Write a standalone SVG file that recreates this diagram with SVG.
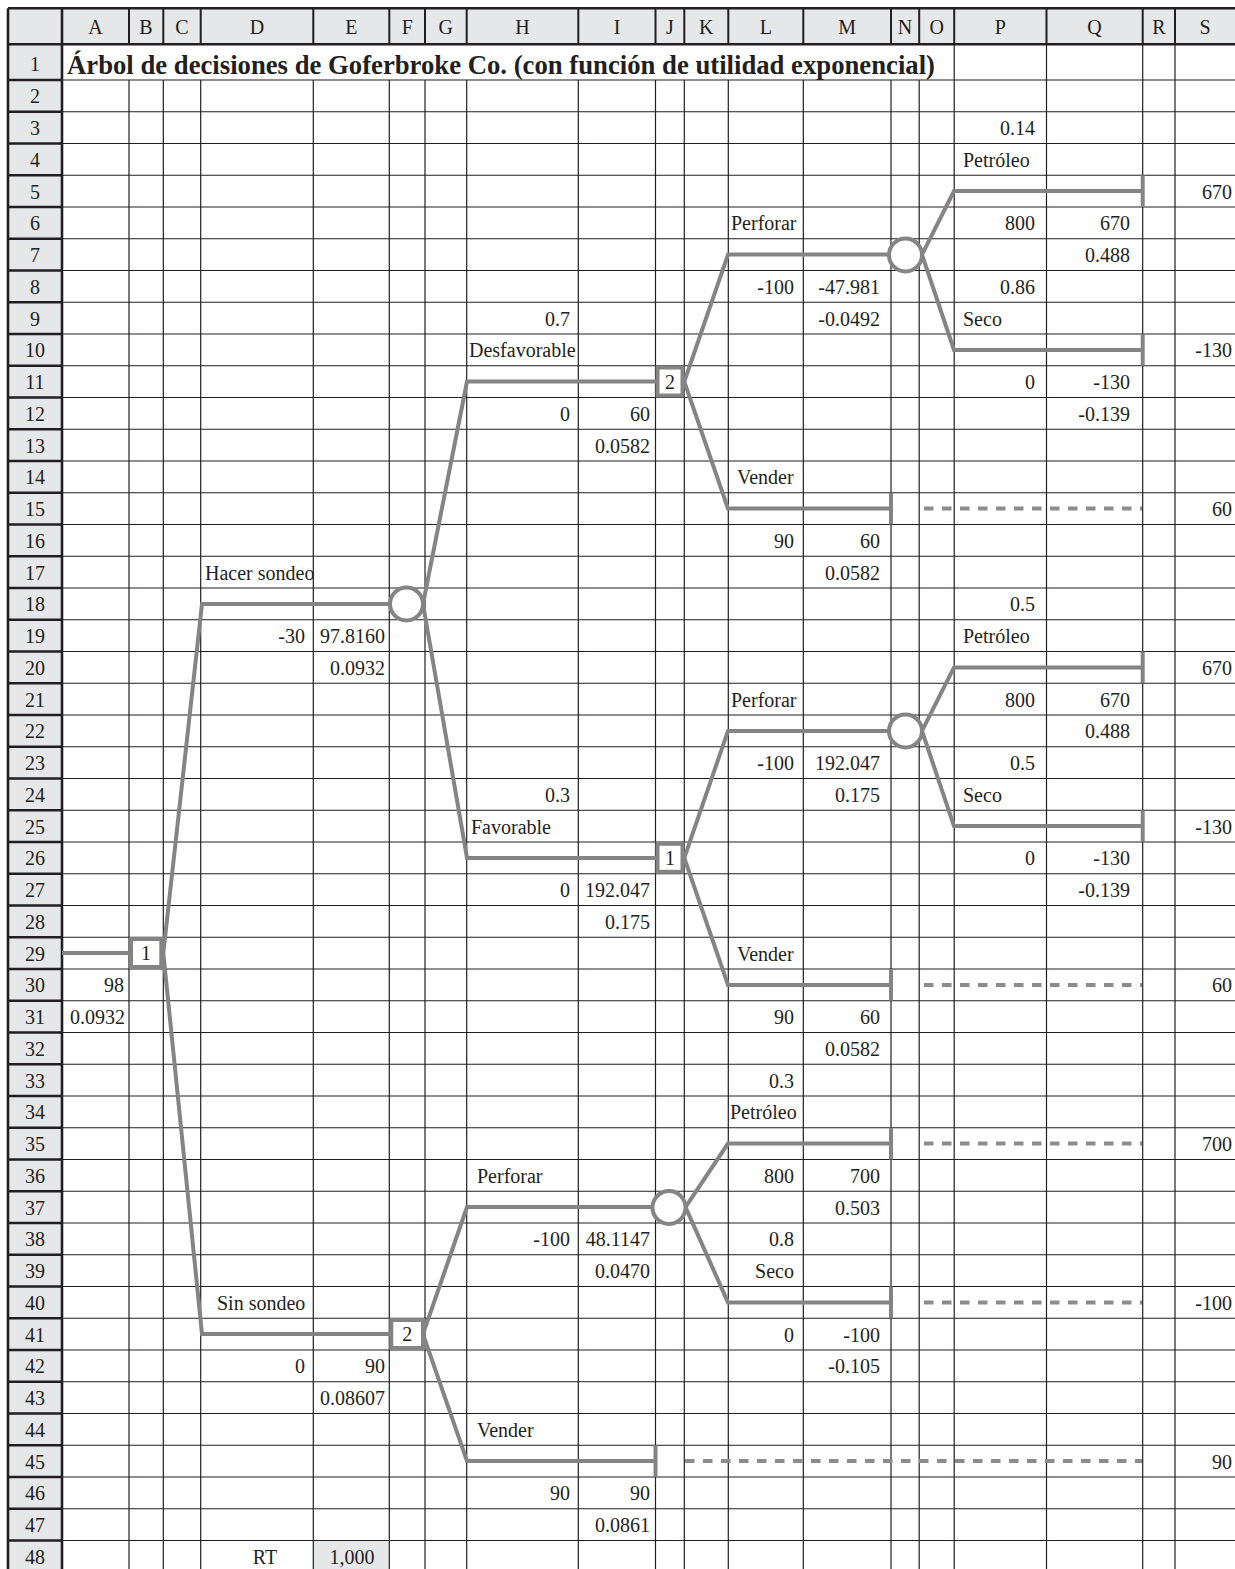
<svg xmlns="http://www.w3.org/2000/svg" width="1235" height="1569" viewBox="0 0 1235 1569">
<style>
.bg{fill:#ffffff}
.hdr{fill:#e6e7e8}
.gl{fill:none;stroke:#231f20;stroke-width:1.2}
.gh{fill:none;stroke:#231f20;stroke-width:2.6}
.t{font-family:"Liberation Serif","Times New Roman",serif;font-size:20px;fill:#231f20}
.r{text-anchor:end}
.c{text-anchor:middle}
.title{font-family:"Liberation Serif","Times New Roman",serif;font-size:26.5px;font-weight:bold;fill:#231f20}
.tree{fill:none;stroke:#848484;stroke-width:4;stroke-linejoin:miter}
.dash{fill:none;stroke:#8c8c8c;stroke-width:4;stroke-dasharray:9.5 8.5}
.node{fill:#ffffff;stroke:#848484;stroke-width:4}
</style>
<rect class="bg" x="0" y="0" width="1235" height="1569"/>
<g id="sheet">
<rect class="hdr" x="8" y="8.3" width="1227" height="36"/>
<rect class="hdr" x="8" y="8.3" width="54" height="1561"/>
<rect class="hdr" x="313.3" y="1540.5" width="76" height="29"/>
<path class="gl" d="M62 80H1235M62 111.75H1235M62 143.5H1235M62 175.25H1235M62 207H1235M62 238.75H1235M62 270.5H1235M62 302.25H1235M62 334H1235M62 365.75H1235M62 397.5H1235M62 429.25H1235M62 461H1235M62 492.75H1235M62 524.5H1235M62 556.25H1235M62 588H1235M62 619.75H1235M62 651.5H1235M62 683.25H1235M62 715H1235M62 746.75H1235M62 778.5H1235M62 810.25H1235M62 842H1235M62 873.75H1235M62 905.5H1235M62 937.25H1235M62 969H1235M62 1000.75H1235M62 1032.5H1235M62 1064.25H1235M62 1096H1235M62 1127.75H1235M62 1159.5H1235M62 1191.25H1235M62 1223H1235M62 1254.75H1235M62 1286.5H1235M62 1318.25H1235M62 1350H1235M62 1381.75H1235M62 1413.5H1235M62 1445.25H1235M62 1477H1235M62 1508.75H1235M62 1540.5H1235"/>
<path class="gl" d="M129 80V1569M163.3 80V1569M200.7 80V1569M313.3 80V1569M389.3 80V1569M425 80V1569M466.7 80V1569M578.3 80V1569M655.5 80V1569M684.3 80V1569M728.3 80V1569M803.3 80V1569M891 80V1569M919.2 80V1569M954.2 44.3V1569M1046.5 44.3V1569M1142.7 44.3V1569M1175 44.3V1569"/>
<path class="gh" d="M8 8.3H1235M8 44.3H1235M8 8.3V1569M62 8.3V1569M8 80H62M8 111.75H62M8 143.5H62M8 175.25H62M8 207H62M8 238.75H62M8 270.5H62M8 302.25H62M8 334H62M8 365.75H62M8 397.5H62M8 429.25H62M8 461H62M8 492.75H62M8 524.5H62M8 556.25H62M8 588H62M8 619.75H62M8 651.5H62M8 683.25H62M8 715H62M8 746.75H62M8 778.5H62M8 810.25H62M8 842H62M8 873.75H62M8 905.5H62M8 937.25H62M8 969H62M8 1000.75H62M8 1032.5H62M8 1064.25H62M8 1096H62M8 1127.75H62M8 1159.5H62M8 1191.25H62M8 1223H62M8 1254.75H62M8 1286.5H62M8 1318.25H62M8 1350H62M8 1381.75H62M8 1413.5H62M8 1445.25H62M8 1477H62M8 1508.75H62M8 1540.5H62"/>
<path class="gh" style="stroke-width:2" d="M129 8.3V44.3M163.3 8.3V44.3M200.7 8.3V44.3M313.3 8.3V44.3M389.3 8.3V44.3M425 8.3V44.3M466.7 8.3V44.3M578.3 8.3V44.3M655.5 8.3V44.3M684.3 8.3V44.3M728.3 8.3V44.3M803.3 8.3V44.3M891 8.3V44.3M919.2 8.3V44.3M954.2 8.3V44.3M1046.5 8.3V44.3M1142.7 8.3V44.3M1175 8.3V44.3"/>
</g>
<g id="col-headers" class="t c">
<text x="95.5" y="34">A</text><text x="146" y="34">B</text><text x="182" y="34">C</text><text x="257" y="34">D</text><text x="351.3" y="34">E</text><text x="407.2" y="34">F</text><text x="445.8" y="34">G</text><text x="522.5" y="34">H</text><text x="617" y="34">I</text><text x="670" y="34">J</text><text x="706.3" y="34">K</text><text x="765.8" y="34">L</text><text x="847.2" y="34">M</text><text x="905" y="34">N</text><text x="936.7" y="34">O</text><text x="1000.4" y="34">P</text><text x="1094.6" y="34">Q</text><text x="1158.8" y="34">R</text><text x="1205" y="34">S</text>
</g>
<g id="row-headers" class="t c">
<text x="35" y="71">1</text><text x="35" y="103.4">2</text><text x="35" y="135.1">3</text><text x="35" y="166.9">4</text><text x="35" y="198.6">5</text><text x="35" y="230.4">6</text><text x="35" y="262.1">7</text><text x="35" y="293.9">8</text><text x="35" y="325.6">9</text><text x="35" y="357.4">10</text><text x="35" y="389.1">11</text><text x="35" y="420.9">12</text><text x="35" y="452.6">13</text><text x="35" y="484.4">14</text><text x="35" y="516.1">15</text><text x="35" y="547.9">16</text><text x="35" y="579.6">17</text><text x="35" y="611.4">18</text><text x="35" y="643.1">19</text><text x="35" y="674.9">20</text><text x="35" y="706.6">21</text><text x="35" y="738.4">22</text><text x="35" y="770.1">23</text><text x="35" y="801.9">24</text><text x="35" y="833.6">25</text><text x="35" y="865.4">26</text><text x="35" y="897.1">27</text><text x="35" y="928.9">28</text><text x="35" y="960.6">29</text><text x="35" y="992.4">30</text><text x="35" y="1024.1">31</text><text x="35" y="1055.9">32</text><text x="35" y="1087.6">33</text><text x="35" y="1119.4">34</text><text x="35" y="1151.1">35</text><text x="35" y="1182.9">36</text><text x="35" y="1214.6">37</text><text x="35" y="1246.4">38</text><text x="35" y="1278.1">39</text><text x="35" y="1309.9">40</text><text x="35" y="1341.6">41</text><text x="35" y="1373.4">42</text><text x="35" y="1405.1">43</text><text x="35" y="1436.9">44</text><text x="35" y="1468.6">45</text><text x="35" y="1500.4">46</text><text x="35" y="1532.1">47</text><text x="35" y="1563.9">48</text>
</g>
<text class="title" x="67" y="73.5" textLength="868" lengthAdjust="spacingAndGlyphs">Árbol de decisiones de Goferbroke Co. (con función de utilidad exponencial)</text>
<g id="connectors">
<path class="tree" d="M62 953.1H131"/>
<path class="tree" d="M163.3 953.1L202 603.9H390"/>
<path class="tree" d="M163.3 953.1L202 1334.1H391.3"/>
<path class="tree" d="M423 604L467 381.6H657.5"/>
<path class="tree" d="M423 604L467 857.9H657.5"/>
<path class="tree" d="M423 1334.1L467 1207.1H652.5"/>
<path class="tree" d="M423 1334.1L467 1461.1H655.5M655.5 1445.25V1477"/>
<path class="tree" d="M684.3 381.6L728 254.6H889"/>
<path class="tree" d="M684.3 381.6L728 508.6H891M891 492.75V524.5"/>
<path class="tree" d="M922 254.6L954 191.1H1142.7M1142.7 175.25V207"/>
<path class="tree" d="M922 254.6L954 349.9H1142.7M1142.7 334V365.75"/>
<path class="tree" d="M684.3 857.9L728 730.9H889"/>
<path class="tree" d="M684.3 857.9L728 984.9H891M891 969V1000.75"/>
<path class="tree" d="M922 730.9L954 667.4H1142.7M1142.7 651.5V683.25"/>
<path class="tree" d="M922 730.9L954 826.1H1142.7M1142.7 810.25V842"/>
<path class="tree" d="M685.5 1207.1L728 1143.6H891M891 1127.75V1159.5"/>
<path class="tree" d="M685.5 1207.1L728 1302.4H891M891 1286.5V1318.25"/>
<path class="dash" d="M924 508.6H1142"/>
<path class="dash" d="M924 984.9H1142"/>
<path class="dash" d="M924 1143.6H1142"/>
<path class="dash" d="M924 1302.4H1142"/>
<path class="dash" d="M685 1461.1H1142"/>
</g>
<g id="node-d1"><rect class="node" x="131" y="939" width="30.3" height="28"/><text class="t c" x="146" y="960.1">1</text></g>
<g id="node-c-sondeo"><circle class="node" cx="406.5" cy="604" r="16.5"/></g>
<g id="node-d2-sin"><rect class="node" x="391.3" y="1320" width="31.7" height="28"/><text class="t c" x="407.2" y="1341.1">2</text></g>
<g id="node-d2-desf"><rect class="node" x="657.5" y="367.5" width="25" height="28"/><text class="t c" x="670" y="388.6">2</text></g>
<g id="node-d1-fav"><rect class="node" x="657.5" y="843.8" width="25" height="28"/><text class="t c" x="670" y="864.9">1</text></g>
<g id="node-c-desf"><circle class="node" cx="905.5" cy="255" r="16.5"/></g>
<g id="node-c-fav"><circle class="node" cx="905.5" cy="731" r="16.5"/></g>
<g id="node-c-sin"><circle class="node" cx="669" cy="1207.5" r="16.5"/></g>
<g id="cells" class="t">
<text class="r" x="1035" y="135.1">0.14</text>
<text x="963" y="166.9">Petróleo</text>
<text class="r" x="1232" y="198.6">670</text>
<text x="731" y="230.4">Perforar</text><text class="r" x="1035" y="230.4">800</text><text class="r" x="1130" y="230.4">670</text>
<text class="r" x="1130" y="262.1">0.488</text>
<text class="r" x="794" y="293.9">-100</text><text class="r" x="880" y="293.9">-47.981</text><text class="r" x="1035" y="293.9">0.86</text>
<text class="r" x="570" y="325.6">0.7</text><text class="r" x="880" y="325.6">-0.0492</text><text x="963" y="325.6">Seco</text>
<text x="469" y="357.4">Desfavorable</text><text class="r" x="1232" y="357.4">-130</text>
<text class="r" x="1035" y="389.1">0</text><text class="r" x="1130" y="389.1">-130</text>
<text class="r" x="570" y="420.9">0</text><text class="r" x="650" y="420.9">60</text><text class="r" x="1130" y="420.9">-0.139</text>
<text class="r" x="650" y="452.6">0.0582</text>
<text x="737" y="484.4">Vender</text>
<text class="r" x="1232" y="516.1">60</text>
<text class="r" x="794" y="547.9">90</text><text class="r" x="880" y="547.9">60</text>
<text x="205" y="579.6">Hacer sondeo</text><text class="r" x="880" y="579.6">0.0582</text>
<text class="r" x="1035" y="611.4">0.5</text>
<text class="r" x="305" y="643.1">-30</text><text class="r" x="385" y="643.1">97.8160</text><text x="963" y="643.1">Petróleo</text>
<text class="r" x="385" y="674.9">0.0932</text><text class="r" x="1232" y="674.9">670</text>
<text x="731" y="706.6">Perforar</text><text class="r" x="1035" y="706.6">800</text><text class="r" x="1130" y="706.6">670</text>
<text class="r" x="1130" y="738.4">0.488</text>
<text class="r" x="794" y="770.1">-100</text><text class="r" x="880" y="770.1">192.047</text><text class="r" x="1035" y="770.1">0.5</text>
<text class="r" x="570" y="801.9">0.3</text><text class="r" x="880" y="801.9">0.175</text><text x="963" y="801.9">Seco</text>
<text x="471" y="833.6">Favorable</text><text class="r" x="1232" y="833.6">-130</text>
<text class="r" x="1035" y="865.4">0</text><text class="r" x="1130" y="865.4">-130</text>
<text class="r" x="570" y="897.1">0</text><text class="r" x="650" y="897.1">192.047</text><text class="r" x="1130" y="897.1">-0.139</text>
<text class="r" x="650" y="928.9">0.175</text>
<text x="737" y="960.6">Vender</text>
<text class="r" x="124" y="992.4">98</text><text class="r" x="1232" y="992.4">60</text>
<text class="r" x="125" y="1024.1">0.0932</text><text class="r" x="794" y="1024.1">90</text><text class="r" x="880" y="1024.1">60</text>
<text class="r" x="880" y="1055.9">0.0582</text>
<text class="r" x="794" y="1087.6">0.3</text>
<text x="730" y="1119.4">Petróleo</text>
<text class="r" x="1232" y="1151.1">700</text>
<text x="477" y="1182.9">Perforar</text><text class="r" x="794" y="1182.9">800</text><text class="r" x="880" y="1182.9">700</text>
<text class="r" x="880" y="1214.6">0.503</text>
<text class="r" x="570" y="1246.4">-100</text><text class="r" x="650" y="1246.4">48.1147</text><text class="r" x="794" y="1246.4">0.8</text>
<text class="r" x="650" y="1278.1">0.0470</text><text class="r" x="794" y="1278.1">Seco</text>
<text x="217" y="1309.9">Sin sondeo</text><text class="r" x="1232" y="1309.9">-100</text>
<text class="r" x="794" y="1341.6">0</text><text class="r" x="880" y="1341.6">-100</text>
<text class="r" x="305" y="1373.4">0</text><text class="r" x="385" y="1373.4">90</text><text class="r" x="880" y="1373.4">-0.105</text>
<text class="r" x="385" y="1405.1">0.08607</text>
<text x="477" y="1436.9">Vender</text>
<text class="r" x="1232" y="1468.6">90</text>
<text class="r" x="570" y="1500.4">90</text><text class="r" x="650" y="1500.4">90</text>
<text class="r" x="650" y="1532.1">0.0861</text>
<text class="c" x="265" y="1563.9">RT</text><text class="c" x="352" y="1563.9">1,000</text>
</g>
</svg>
